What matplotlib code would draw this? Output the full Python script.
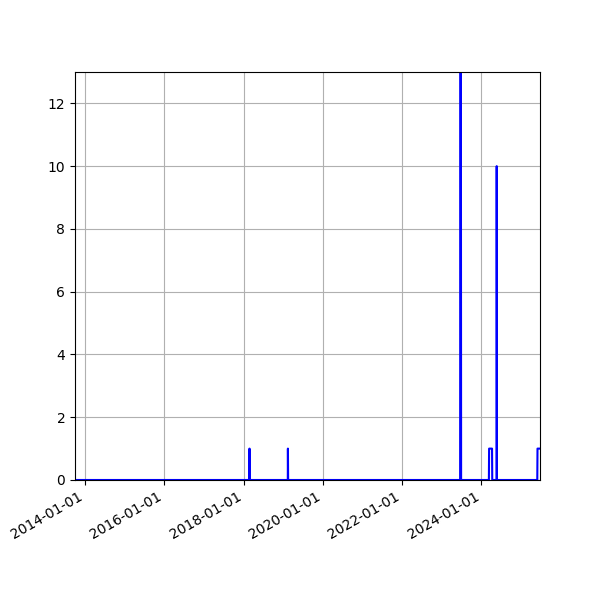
import matplotlib
matplotlib.use("Agg")
import matplotlib.pyplot as plt
import matplotlib.dates as mdates
import pandas as pd
import numpy as np

# Series range (daily)
start_date = "2013-10-01"
end_date = "2025-06-25"

# Non-zero episodes: start, end, value
event_starts = ["2018-02-25", "2019-02-14", "2023-06-21", "2024-03-12", "2024-05-22", "2025-06-01"]
event_ends   = ["2018-02-25", "2019-02-14", "2023-06-27", "2024-04-09", "2024-05-22", "2025-06-25"]
event_values = [1, 1, 13, 1, 10, 1]

dates = pd.date_range(start_date, end_date, freq="D")
values = pd.Series(0.0, index=dates)
for s, e, v in zip(event_starts, event_ends, event_values):
    values.loc[s:e] = v

fig, ax = plt.subplots(figsize=(6, 6), dpi=100)
ax.plot(values.index, values.values, color="blue")
ax.set_xlim(dates[0], dates[-1])
ax.set_ylim(0, 13)
ax.xaxis.set_major_locator(mdates.YearLocator(2))
ax.xaxis.set_major_formatter(mdates.DateFormatter("%Y-%m-%d"))
ax.grid(True)
fig.autofmt_xdate()
fig.savefig("out.png", dpi=100)
